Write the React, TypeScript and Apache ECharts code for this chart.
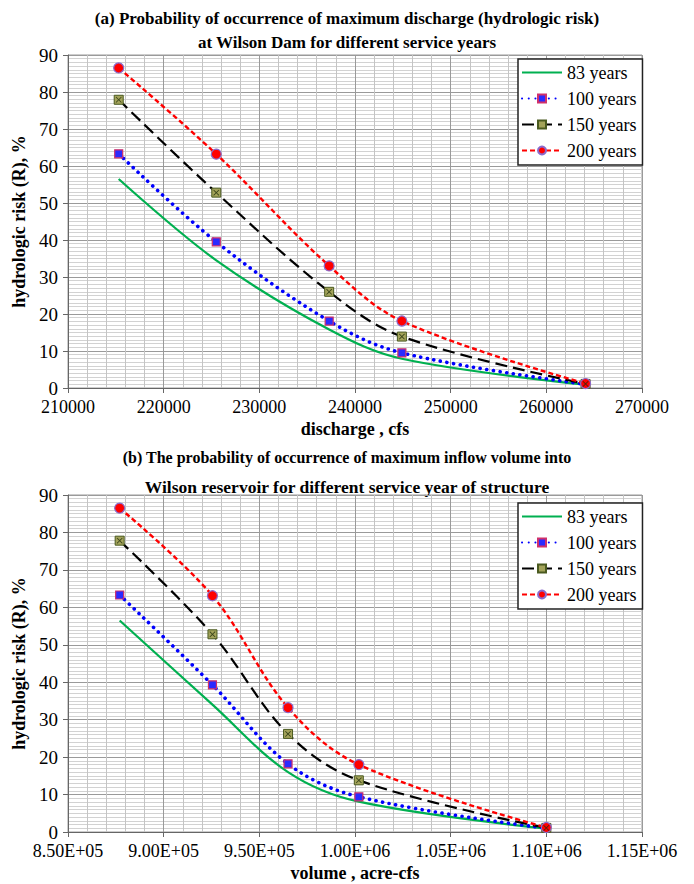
import React, { useEffect, useRef } from "react";
import * as echarts from "echarts";

const seriesNames = ["83 years", "100 years", "150 years", "200 years"];

// (a) discharge, cfs
const dischargeCfs = [215300, 225500, 237300, 244900, 264100];
const riskA83 = [56.5, 34.5, 15.8, 7.9, 0.9];
const riskA100 = [63.3, 39.5, 18.1, 9.5, 1.0];
const riskA150 = [77.9, 52.8, 26.0, 13.9, 1.1];
const riskA200 = [86.5, 63.2, 33.0, 18.1, 1.2];

// (b) volume, acre-cfs
const volumeAcreCfs = [877000, 925500, 965000, 1002000, 1100000];
const riskB83 = [56.5, 34.0, 16.0, 8.1, 0.9];
const riskB100 = [63.3, 39.3, 18.2, 9.4, 1.0];
const riskB150 = [77.8, 52.8, 26.2, 13.8, 1.1];
const riskB200 = [86.5, 63.1, 33.2, 18.0, 1.2];

const FONT = "Liberation Serif";
const X_MARK = "path://M0,1L1,0L5,4L9,0L10,1L6,5L10,9L9,10L5,6L1,10L0,9L4,5Z";

function sciLabel(v: number): string {
  const [m, e] = v.toExponential(2).split("e");
  const sign = e[0] === "-" ? "-" : "+";
  const exp = String(Math.abs(Number(e))).padStart(2, "0");
  return m + "E" + sign + exp;
}

function pairs(xs: number[], ys: number[]) {
  return xs.map((x, i) => [x, ys[i]]);
}

function makeSeries(idx: number, xs: number[], r83: number[], r100: number[], r150: number[], r200: number[]) {
  const common = {
    type: "line",
    xAxisIndex: idx,
    yAxisIndex: idx,
    smooth: 0.35,
    animation: false,
  };
  return [
    {
      ...common,
      name: seriesNames[0],
      data: pairs(xs, r83),
      symbol: "none",
      lineStyle: { color: "#00b050", width: 2.2, type: "solid" },
      itemStyle: { color: "#00b050" },
    },
    {
      ...common,
      name: seriesNames[1],
      data: pairs(xs, r100),
      symbol: "rect",
      symbolSize: 8,
      lineStyle: { color: "#0000ff", width: 3.6, type: [0.1, 6.6], cap: "round" },
      itemStyle: { color: "#2a2aff", borderColor: "#d0306a", borderWidth: 1.2 },
    },
    {
      ...common,
      name: seriesNames[2],
      data: pairs(xs, r150),
      symbol: "rect",
      symbolSize: 9,
      lineStyle: { color: "#000000", width: 2.2, type: [12, 6] },
      itemStyle: { color: "#a3a35a", borderColor: "#4a5a20", borderWidth: 1 },
    },
    {
      ...common,
      name: seriesNames[3],
      data: pairs(xs, r200),
      symbol: "circle",
      symbolSize: 10,
      lineStyle: { color: "#ff0000", width: 2.4, type: [5, 3] },
      itemStyle: { color: "#ff0000", borderColor: "#8a6acc", borderWidth: 1.2 },
    },
    {
      type: "scatter",
      xAxisIndex: idx,
      yAxisIndex: idx,
      data: pairs(xs, r150),
      symbol: X_MARK,
      symbolSize: 6,
      itemStyle: { color: "#1f2d0a" },
      silent: true,
      z: 5,
    },
  ];
}

function xAxisBase(idx: number) {
  return {
    type: "value",
    gridIndex: idx,
    nameLocation: "middle",
    nameGap: 32,
    nameTextStyle: { fontFamily: FONT, fontSize: 18, fontWeight: "bold", color: "#000" },
    axisLine: { show: true, onZero: false, lineStyle: { color: "#666", width: 1 } },
    axisTick: { show: true, length: 5, lineStyle: { color: "#666" } },
    axisLabel: { fontFamily: FONT, fontSize: 18, color: "#000", margin: 10, formatter: (v: number) => String(v) },
    splitLine: { show: true, lineStyle: { color: "#9a9a9a", width: 1 } },
    minorTick: { show: false, splitNumber: 5 },
    minorSplitLine: { show: true, lineStyle: { color: "#c4c4c4", width: 1 } },
  };
}

function yAxisBase(idx: number) {
  return {
    type: "value",
    gridIndex: idx,
    min: 0,
    max: 90,
    interval: 10,
    name: "hydrologic risk (R), %",
    nameLocation: "middle",
    nameGap: 36,
    nameTextStyle: { fontFamily: FONT, fontSize: 18, fontWeight: "bold", color: "#000" },
    axisLine: { show: true, lineStyle: { color: "#666", width: 1 } },
    axisTick: { show: true, length: 5, lineStyle: { color: "#666" } },
    axisLabel: { fontFamily: FONT, fontSize: 19, color: "#000", margin: 10 },
    splitLine: { show: true, lineStyle: { color: "#9a9a9a", width: 1 } },
    minorTick: { show: false, splitNumber: 10 },
    minorSplitLine: { show: true, lineStyle: { color: "#d2d2d2", width: 1 } },
  };
}

function legendAt(top: number) {
  return {
    orient: "vertical",
    left: 518,
    top,
    data: [
      { name: seriesNames[0], itemStyle: { opacity: 0 } },
      { name: seriesNames[1] },
      { name: seriesNames[2] },
      { name: seriesNames[3] },
    ],
    backgroundColor: "#ffffff",
    borderColor: "#222",
    borderWidth: 1.5,
    padding: [3, 6, 4, 3],
    itemWidth: 40,
    itemHeight: 10,
    itemGap: 5,
    textStyle: { fontFamily: FONT, fontSize: 18, color: "#000", lineHeight: 21 },
    selectedMode: false,
  };
}

function titleText(text: string, y: number, size: number) {
  return {
    type: "text",
    x: 347,
    y,
    style: {
      text,
      fill: "#000",
      fontFamily: FONT,
      fontSize: size,
      fontWeight: "bold",
      textAlign: "center",
      textVerticalAlign: "middle",
    },
  };
}

export default function App() {
  const ref = useRef<HTMLDivElement>(null);

  useEffect(() => {
    document.body.style.margin = "0";
    if (!ref.current) return;
    const chart = echarts.init(ref.current, null, { renderer: "svg" });
    const option = {
      animation: false,
      backgroundColor: "#ffffff",
      textStyle: { fontFamily: FONT },
      grid: [
        { left: 68, top: 55, width: 574, height: 333, show: true, borderColor: "#9a9a9a", borderWidth: 1, backgroundColor: "#fff" },
        { left: 68, top: 495, width: 574, height: 337, show: true, borderColor: "#9a9a9a", borderWidth: 1, backgroundColor: "#fff" },
      ],
      xAxis: [
        { ...xAxisBase(0), min: 210000, max: 270000, interval: 10000, name: "discharge , cfs" },
        {
          ...xAxisBase(1),
          min: 850000,
          max: 1150000,
          interval: 50000,
          name: "volume , acre-cfs",
          axisLabel: { ...xAxisBase(1).axisLabel, formatter: (v: number) => sciLabel(v) },
        },
      ],
      yAxis: [yAxisBase(0), yAxisBase(1)],
      legend: [legendAt(59), legendAt(503)],
      graphic: [
        titleText("(a) Probability of occurrence of maximum discharge (hydrologic risk)", 18, 17),
        titleText("at Wilson Dam for different service years", 42, 17),
        titleText("(b) The probability of occurrence of maximum inflow volume into", 457, 16),
        titleText("Wilson reservoir for different service year of structure", 487, 17.5),
      ],
      series: [
        ...makeSeries(0, dischargeCfs, riskA83, riskA100, riskA150, riskA200),
        ...makeSeries(1, volumeAcreCfs, riskB83, riskB100, riskB150, riskB200),
      ],
    };
    chart.setOption(option as any);
    return () => chart.dispose();
  }, []);

  return <div ref={ref} style={{ width: 694, height: 884 }} />;
}
